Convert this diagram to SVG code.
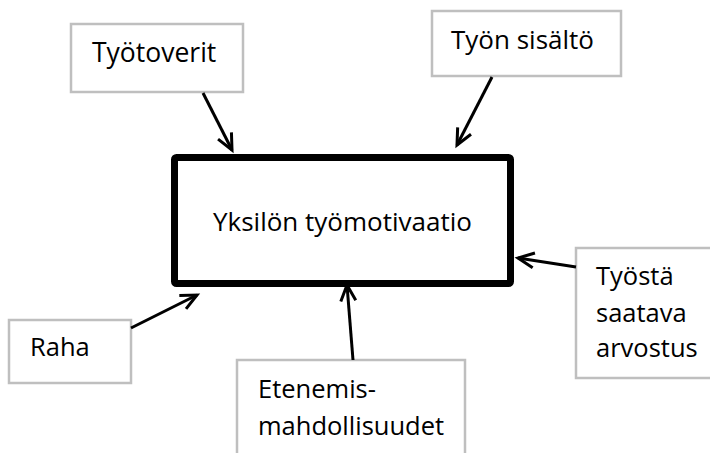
<svg xmlns="http://www.w3.org/2000/svg" width="710" height="453" viewBox="0 0 710 453">
<defs>
<style>
.box{fill:#fff;stroke:#bfbfbf;stroke-width:2.5}
.main{fill:#fff;stroke:#000;stroke-width:7}
.t{font-family:"Open Sans","Liberation Sans",sans-serif;font-size:25.5px;fill:#000}
.conn line{stroke:#000;stroke-width:3;marker-end:url(#ah)}
</style>
<marker id="ah" markerUnits="userSpaceOnUse" markerWidth="22" markerHeight="20" refX="18" refY="9" orient="auto" overflow="visible">
<path d="M2,1.5 L18,9 L2,16.5" fill="none" stroke="#000" stroke-width="3"/>
</marker>
</defs>
<rect width="710" height="453" fill="#fff"/>
<g id="node-main">
<rect class="main" x="174.5" y="157.5" width="336" height="126" rx="2"/>
<text class="t" x="213" y="231" style="font-size:26px">Yksilön työmotivaatio</text>
</g>
<g id="node-tyotoverit">
<rect class="box" x="71" y="24" width="172" height="68"/>
<text class="t" x="92" y="62" style="font-size:26.5px">Työtoverit</text>
</g>
<g id="node-tyon-sisalto">
<rect class="box" x="432" y="11" width="189" height="65"/>
<text class="t" x="451" y="49" style="font-size:26px">Työn sisältö</text>
</g>
<g id="node-raha">
<rect class="box" x="9" y="320" width="122" height="63"/>
<text class="t" x="30" y="356">Raha</text>
</g>
<g id="node-etenemis">
<rect class="box" x="237" y="360" width="228" height="110"/>
<text class="t" x="258" y="398">Etenemis-</text>
<text class="t" x="258" y="435">mahdollisuudet</text>
</g>
<g id="node-arvostus">
<rect class="box" x="576" y="248" width="150" height="130"/>
<text class="t" x="596" y="285">Työstä</text>
<text class="t" x="596" y="322">saatava</text>
<text class="t" x="596" y="357">arvostus</text>
</g>
<g id="connectors" class="conn">
<line x1="203" y1="93" x2="232" y2="150"/>
<line x1="492" y1="77" x2="457" y2="145"/>
<line x1="131" y1="328" x2="197" y2="295"/>
<line x1="353" y1="360" x2="347" y2="285"/>
<line x1="576" y1="267" x2="518" y2="258"/>
</g>
</svg>
